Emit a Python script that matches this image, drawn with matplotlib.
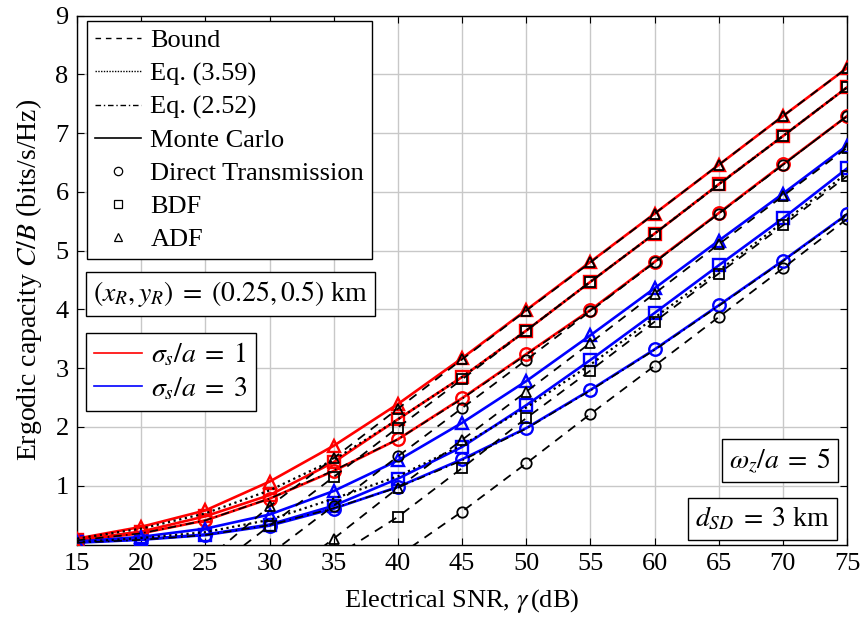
import numpy as np
import matplotlib
matplotlib.use("Agg")
import matplotlib.pyplot as plt
from matplotlib.lines import Line2D

plt.rcParams["font.family"] = ["Liberation Serif", "DejaVu Serif"]
plt.rcParams["mathtext.fontset"] = "stix"

# Electrical SNR (dB)
snr_db = [15, 20, 25, 30, 35, 40, 45, 50, 55, 60, 65, 70, 75]
nan = np.nan

# Monte Carlo, sigma_s/a = 1
mc1_dt  = [0.07, 0.19, 0.41, 0.78, 1.25, 1.79, 2.49, 3.24, 3.99, 4.81, 5.64, 6.47, 7.29]
mc1_bdf = [0.08, 0.22, 0.48, 0.84, 1.40, 2.13, 2.85, 3.64, 4.47, 5.29, 6.13, 6.95, 7.78]
mc1_adf = [0.10, 0.30, 0.58, 1.07, 1.68, 2.39, 3.17, 3.99, 4.81, 5.63, 6.46, 7.29, 8.11]
# Monte Carlo, sigma_s/a = 3
mc3_dt  = [0.03, 0.08, 0.16, 0.32, 0.61, 0.98, 1.45, 1.98, 2.63, 3.32, 4.07, 4.83, 5.62]
mc3_bdf = [0.04, 0.09, 0.17, 0.34, 0.66, 1.12, 1.66, 2.37, 3.14, 3.94, 4.75, 5.55, 6.40]
mc3_adf = [0.05, 0.13, 0.27, 0.51, 0.91, 1.43, 2.07, 2.78, 3.56, 4.36, 5.17, 5.97, 6.79]

# Bounds
bnd1_dt  = [nan, nan, nan, -0.17, 0.66, 1.50, 2.32, 3.14, 3.97, 4.80, 5.63, 6.46, 7.29]
bnd1_bdf = [nan, nan, -0.52, 0.32, 1.15, 1.99, 2.81, 3.64, 4.47, 5.29, 6.12, 6.95, 7.78]
bnd1_adf = [nan, nan, -0.28, 0.65, 1.47, 2.31, 3.15, 3.98, 4.80, 5.63, 6.46, 7.29, 8.11]
bnd3_dt  = [nan, nan, nan, nan, nan, -0.20, 0.56, 1.38, 2.22, 3.04, 3.87, 4.70, 5.54]
bnd3_bdf = [nan, nan, nan, nan, -0.22, 0.47, 1.30, 2.15, 2.96, 3.79, 4.61, 5.43, 6.27]
bnd3_adf = [nan, nan, nan, -0.73, 0.10, 0.96, 1.78, 2.60, 3.43, 4.27, 5.11, 5.93, 6.75]

# Eq. (3.59)
eq359_1 = [0.10, 0.27, 0.53, 0.92, 1.44, 2.13, 2.85, 3.64, 4.47, 5.29, 6.13, 6.95, 7.78]
eq359_3 = [0.04, 0.11, 0.21, 0.42, 0.78, 1.16, 1.69, 2.33, 3.06, 3.86, 4.66, 5.48, 6.32]
# Eq. (2.52)
eq252_1 = [0.07, 0.19, 0.41, 0.78, 1.26, 1.79, 2.48, 3.23, 3.98, 4.80, 5.63, 6.46, 7.29]
eq252_3 = [0.03, 0.08, 0.16, 0.33, 0.62, 0.97, 1.43, 1.97, 2.62, 3.31, 4.06, 4.82, 5.61]

W, H = 863, 619
fig = plt.figure(figsize=(W / 100, H / 100), dpi=100)
L, R, T, B = 77, 847, 15.7, 544.5
ax = fig.add_axes([L / W, 1 - B / H, (R - L) / W, (B - T) / H])

ms = 9
mew = 1.7
dash = (0, (5, 4))
dot = (0, (1, 1.6))
dashdot = (0, (5, 2.5, 1, 2.5))

# Monte Carlo curves
for ys, col in [(mc1_dt, "red"), (mc3_dt, "blue")]:
    ax.plot(snr_db, ys, color=col, lw=1.9, marker="o", ms=ms, mfc="none", mew=mew, zorder=3)
for ys, col in [(mc1_bdf, "red"), (mc3_bdf, "blue")]:
    ax.plot(snr_db, ys, color=col, lw=1.9, marker="s", ms=ms, mfc="none", mew=mew, zorder=3)
for ys, col in [(mc1_adf, "red"), (mc3_adf, "blue")]:
    ax.plot(snr_db, ys, color=col, lw=1.9, marker="^", ms=ms, mfc="none", mew=mew, zorder=3)

# Analytical curves
for ys in (eq359_1, eq359_3):
    ax.plot(snr_db, ys, color="black", lw=1.6, linestyle=dot, zorder=4)
for ys in (eq252_1, eq252_3):
    ax.plot(snr_db, ys, color="black", lw=1.2, linestyle=dashdot, zorder=4)

# Bounds
for ys, mk in [(bnd1_dt, "o"), (bnd3_dt, "o"), (bnd1_bdf, "s"), (bnd3_bdf, "s"),
               (bnd1_adf, "^"), (bnd3_adf, "^")]:
    ax.plot(snr_db, ys, color="black", lw=1.3, linestyle=dash, marker=mk, ms=ms - 1.5,
            mfc="none", mew=1.3, zorder=5)

ax.set_xlim(15, 75)
ax.set_ylim(0, 9)
ax.set_xticks(snr_db)
ax.set_yticks(range(1, 10))
ax.grid(True, color="#c8c8c8", lw=1.0)
ax.set_axisbelow(True)
ax.tick_params(direction="in", top=True, right=True, length=5, labelsize=19, pad=6)
for s in ax.spines.values():
    s.set_linewidth(1.0)
ax.set_xlabel(r"Electrical SNR, $\gamma\,$(dB)", fontsize=19, labelpad=9)
ax.set_ylabel(r"Ergodic capacity $C/B$ (bits/s/Hz)", fontsize=20, labelpad=8)

# Legend for line styles and markers
handles = [
    Line2D([], [], color="black", lw=1.0, linestyle=(0, (4, 3.5))),
    Line2D([], [], color="black", lw=1.0, linestyle=(0, (1, 1))),
    Line2D([], [], color="black", lw=1.0, linestyle=(0, (4, 2, 1, 2))),
    Line2D([], [], color="black", lw=1.2),
    Line2D([], [], color="black", lw=0, marker="o", ms=6, mfc="none", mew=0.9),
    Line2D([], [], color="black", lw=0, marker="s", ms=6, mfc="none", mew=0.9),
    Line2D([], [], color="black", lw=0, marker="^", ms=6, mfc="none", mew=0.9),
]
labels = ["Bound", "Eq. (3.59)", "Eq. (2.52)", "Monte Carlo",
          "Direct Transmission", "BDF", "ADF"]
leg1 = ax.legend(handles, labels, loc="upper left",
                 bbox_to_anchor=((87 - L) / (R - L), (B - 21) / (B - T)),
                 fontsize=19, frameon=True, fancybox=False, edgecolor="black",
                 framealpha=1, handlelength=1.75, handletextpad=0.35,
                 labelspacing=0.36, borderpad=0.3, borderaxespad=0)
leg1.get_frame().set_linewidth(1.0)
ax.add_artist(leg1)

# Legend for the two sigma values
h2 = [Line2D([], [], color="red", lw=1.2), Line2D([], [], color="blue", lw=1.2)]
leg2 = ax.legend(h2, [r"$\sigma_s/a\;=\;1$", r"$\sigma_s/a\;=\;3$"], loc="upper left",
                 bbox_to_anchor=((86 - L) / (R - L), (B - 332.7) / (B - T)),
                 fontsize=20, frameon=True, fancybox=False, edgecolor="black",
                 framealpha=1, handlelength=1.7, handletextpad=0.35,
                 labelspacing=0.25, borderpad=0.3, borderaxespad=0)
leg2.get_frame().set_linewidth(1.0)

box = dict(boxstyle="square,pad=0.25", fc="white", ec="black", lw=1.0)
def px(xp, yp):
    return (xp - L) / (R - L), (B - yp) / (B - T)

ax.text(*px(230.5, 294.2), r"$(x_R, y_R)\;=\;(0.25, 0.5)$ km", transform=ax.transAxes,
        ha="center", va="center", fontsize=20, bbox=box, zorder=10)
ax.text(*px(780, 460.5), r"$\omega_z/a\;=\;5$", transform=ax.transAxes,
        ha="center", va="center", fontsize=20, bbox=box, zorder=10)
ax.text(*px(762.5, 519), r"$d_{SD}\;=\;3$ km", transform=ax.transAxes,
        ha="center", va="center", fontsize=20, bbox=box, zorder=10)

fig.savefig("out.png", dpi=100)
